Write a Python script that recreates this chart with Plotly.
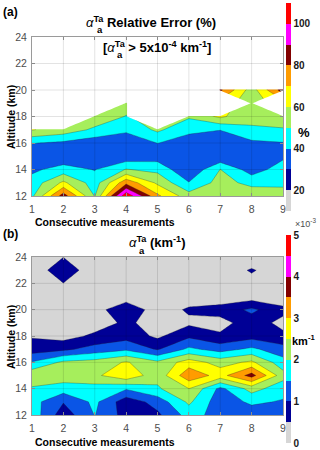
import numpy as np
import plotly.graph_objects as go

x_meas = [1, 2, 3, 4, 5, 6, 7, 8, 9]
altitude = list(range(12, 25))

# alpha_a^Ta relative error (%), rows = altitude 12..24, None = blank (alpha < 5e-4)
rel_err = [
    [48, 85, 49.5, 108, 72, 54.5, 55, 57.3, 52],
    [44, 62, 45, 77, 58, 40.5, 54, 46.9, 49],
    [38, 44, 39.5, 50.5, 47.2, 31, 50.2, 35, 45],
    [35, 33, 32, 33, 35, 31, 31, 33, 38],
    [40.5, 38, 34, 33, 40.2, 36, 33, 37.7, 39.5],
    [60.5, 56, 48, 42, 52, 42, 40.3, 49, 49],
    [None, None, 57, 49.5, None, 51.5, 62, 52, 56],
    [None, None, None, 55, None, None, None, 55, None],
    [None, None, None, None, None, None, 82, 55, 85],
    [None] * 9,
    [None] * 9,
    [None] * 9,
    [None] * 9,
]

# alpha_a^Ta in units of 1e-3 km^-1
alpha_e3 = [
    [1.8, 0.72, 1.52, 0.8, 0.9, 1.7, 1.3, 1.2, 1.2],
    [1.7, 1.03, 1.62, 0.70, 1.2, 2.1, 1.2, 1.6, 1.45],
    [1.93, 1.75, 1.79, 1.55, 1.93, 2.5, 1.36, 2.2, 1.7],
    [2.4, 2.3, 2.39, 2.9, 2.17, 3.35, 2.8, 3.7, 2.2],
    [1.54, 2.1, 2.2, 2.55, 2.1, 2.75, 2.3, 2.6, 1.7],
    [0.74, 0.88, 1.2, 1.4, 0.95, 1.6, 1.3, 1.6, 1.2],
    [0.45, 0.30, 0.6, 0.8, 0.4, 0.9, 0.58, 0.8, 0.62],
    [0.3, 0.3, 0.24, 0.6, 0.28, 0.4, 0.32, 0.76, 0.35],
    [0.2, 0.2, 0.28, 0.9, 0.23, 0.57, 0.72, 1.1, 0.65],
    [0.1, 0.1, 0.15, 0.2, 0.15, 0.22, 0.15, 0.24, 0.1],
    [0.1, 0.49, 0.1, 0.1, 0.1, 0.1, 0.15, 0.3, 0.1],
    [0.1, 0.9, 0.1, 0.1, 0.1, 0.1, 0.15, 0.56, 0.15],
    [0.1, 0.49, 0.1, 0.1, 0.1, 0.1, 0.1, 0.1, 0.1],
]

err_ticks = [20, 40, 60, 80, 100]
alpha_ticks = [0, 1, 2, 3, 4, 5]
alt_ticks = [12, 14, 16, 18, 20, 22, 24]

band_colors = ['#d6d6d6', '#000096', '#0a55e6', '#00ffff', '#a6ee5c',
               '#ffff00', '#ff9c00', '#820000', '#ff00ff', '#ff0000']

W, H = 320, 450
FONT = 'Liberation Sans, Arial, sans-serif'


def steps(cols):
    n = len(cols)
    out = []
    for i, c in enumerate(cols):
        out += [[i / n, c], [(i + 1) / n, c]]
    return out


def px(x):
    return x / W


def py(y):
    return 1 - y / H


cscale = steps(band_colors)
line_style = dict(color='rgba(40,40,40,0.6)', width=0.5, smoothing=0)

fig = go.Figure()

# (a) relative error
fig.add_trace(go.Contour(
    x=x_meas, y=altitude, z=rel_err, xaxis='x', yaxis='y',
    autocontour=False, connectgaps=True,
    contours=dict(start=20, end=100, size=10, coloring='fill'),
    colorscale=cscale, showscale=False, line=line_style, hoverinfo='skip'))

# white cover over the blank (NaN) part; padded one step past the axes so
# the cover has no seam along the frame
mask = np.isnan(np.array(rel_err, dtype=float)).astype(float)
mask_p = np.pad(mask, 1, mode='edge')
xm = [x_meas[0] - 1] + x_meas + [x_meas[-1] + 1]
ym = [altitude[0] - 1] + altitude + [altitude[-1] + 1]
fig.add_trace(go.Contour(
    x=xm, y=ym, z=mask_p, xaxis='x', yaxis='y',
    autocontour=False,
    contours=dict(start=0.03, end=0.03, size=1, coloring='fill'),
    colorscale=[[0, 'rgba(255,255,255,0)'], [0.5, 'rgba(255,255,255,0)'],
                [0.5, 'white'], [1, 'white']],
    showscale=False, line=dict(width=0, smoothing=0), hoverinfo='skip'))

# (b) alpha
fig.add_trace(go.Contour(
    x=x_meas, y=altitude, z=alpha_e3, xaxis='x2', yaxis='y2',
    autocontour=False,
    contours=dict(start=0.5, end=4.5, size=0.5, coloring='fill'),
    colorscale=cscale, showscale=False, line=line_style, hoverinfo='skip'))

# colorbars
cb_common = dict(x=px(285.5), xanchor='left', yanchor='top', len=208, lenmode='pixels',
                 thickness=5, thicknessmode='pixels', xpad=0, ypad=0,
                 outlinewidth=0, ticks='',
                 tickfont=dict(family=FONT, size=10, color='#1a1a1a', weight='bold'))
fig.add_trace(go.Scatter(
    x=[None], y=[None], xaxis='x', yaxis='y', mode='markers', hoverinfo='skip',
    marker=dict(color=[10], colorscale=cscale, cmin=10, cmax=110, showscale=True,
                colorbar=dict(cb_common, y=py(3), tickvals=err_ticks))))
fig.add_trace(go.Scatter(
    x=[None], y=[None], xaxis='x2', yaxis='y2', mode='markers', hoverinfo='skip',
    marker=dict(color=[0], colorscale=cscale, cmin=0, cmax=5, showscale=True,
                colorbar=dict(cb_common, y=py(235), tickvals=alpha_ticks))))

xax = dict(range=[1, 9], tickvals=x_meas, ticks='inside', ticklen=3, showgrid=False,
           showline=True, mirror='ticks', linecolor='#9a9a9a', tickcolor='#9a9a9a',
           linewidth=1, zeroline=False, ticklabelstandoff=3,
           tickfont=dict(family=FONT, size=10.5, color='#4d4d4d'))
yax = dict(xax, range=[12, 24], tickvals=alt_ticks, ticklabelstandoff=2)

xdom = [px(32), px(283)]
fig.update_layout(
    width=W, height=H, margin=dict(l=0, r=0, t=0, b=0, autoexpand=False),
    plot_bgcolor='white', paper_bgcolor='white', showlegend=False,
    xaxis=dict(xax, domain=xdom, anchor='y'),
    yaxis=dict(yax, domain=[py(196), py(37)], anchor='x'),
    xaxis2=dict(xax, domain=xdom, anchor='y2'),
    yaxis2=dict(yax, domain=[py(415), py(257)], anchor='x2'),
)

# grid drawn over the fills, faint like the original
shapes = []
for xr, yr in (('x', 'y'), ('x2', 'y2')):
    for xv in x_meas[1:-1]:
        shapes.append(dict(type='line', xref=xr, yref=yr + ' domain', x0=xv, x1=xv, y0=0, y1=1,
                           line=dict(color='rgba(0,0,0,0.11)', width=1), layer='above'))
    for yv in alt_ticks[1:-1]:
        shapes.append(dict(type='line', xref=xr + ' domain', yref=yr, x0=0, x1=1, y0=yv, y1=yv,
                           line=dict(color='rgba(0,0,0,0.11)', width=1), layer='above'))
fig.update_layout(shapes=shapes)


def note(x, y, s, size=10, xa='left', ya='middle', angle=0, color='black'):
    fig.add_annotation(x=px(x), y=py(y), xref='paper', yref='paper', text=s, showarrow=False,
                       xanchor=xa, yanchor=ya, textangle=angle,
                       font=dict(family=FONT, size=size, color=color))


note(1, 12, '<b>(a)</b>', 12)
note(1, 234, '<b>(b)</b>', 12)
note(84, 22, '<i>α</i><sup><b>Ta</b></sup><b> Relative Error (%)</b>', 13)
note(95, 30, '<b>a</b>', 9.5)
note(101, 47, '<b>[</b><i>α</i><sup><b>Ta</b></sup><b> &gt; 5x10<sup>-4</sup> km<sup>-1</sup>]</b>', 13)
note(115, 54, '<b>a</b>', 9.5)
note(127, 242, '<i>α</i><sup><b>Ta</b></sup><b> (km<sup>-1</sup>)</b>', 13)
note(137, 250, '<b>a</b>', 9.5)
for yc in (117, 337):
    note(11, yc, '<b>Altitude (km)</b>', 10.5, xa='center', angle=-90)
for yc in (222, 442):
    note(33, yc, '<b>Consecutive measurements</b>', 10.5)
note(304, 132, '<b>%</b>', 13, xa='center')
note(317, 340, '<b>km<sup>-1</sup></b>', 11, xa='right')
note(318, 223, '×10<sup>-3</sup>', 9, xa='right', color='#4d4d4d')

# the page body has a default 8px margin; drop it so the figure sits at 0,0
fig.write_html("out.html", config=dict(displayModeBar=False),
               post_script="document.body.style.margin='0';document.body.style.overflow='hidden';")
